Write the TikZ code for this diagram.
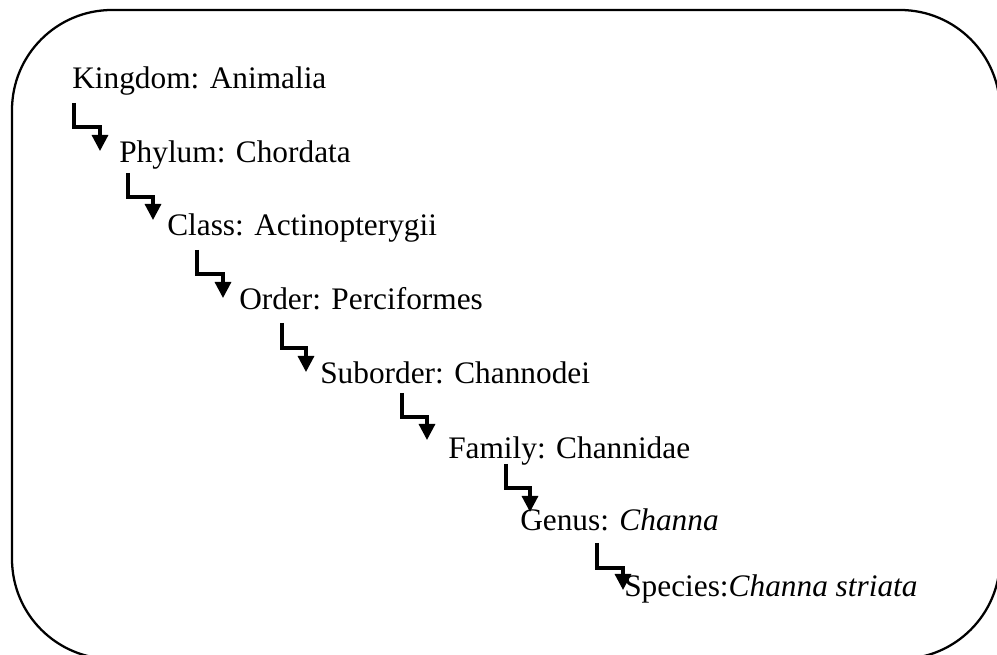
\documentclass[tikz,border=0pt]{standalone}
\usepackage{fontspec}
\setmainfont{Liberation Serif}
\usetikzlibrary{arrows.meta}

\begin{document}
\begin{tikzpicture}[x=0.75pt, y=-0.75pt, >={Triangle[length=12pt, width=12pt]},
    every node/.style={font=\fontsize{23.5}{28}\selectfont},
    taxon/.style={anchor=base west, inner sep=0pt},
    rankarrow/.style={->, line width=2.4pt}]
  \useasboundingbox (0,0) rectangle (997,655);
  \draw[line width=1.7pt, rounded corners=75pt] (12,10) rectangle (1000,659);
  % ranks
  \node[taxon] (kingdom) at (72,89) {Kingdom: Animalia};
  \node[taxon] (phylum) at (119,163) {Phylum: Chordata};
  \node[taxon] (class) at (167,236) {Class: Actinopterygii};
  \node[taxon] (order) at (239,310) {Order: Perciformes};
  \node[taxon] (suborder) at (320,384) {Suborder: Channodei};
  \node[taxon] (family) at (448,459) {Family: Channidae};
  \node[taxon] (genus) at (520,531) {Genus: \textit{Channa}};
  \node[taxon] (species) at (624,597) {Species:\textit{Channa striata}};
  % elbow arrows
  \draw[rankarrow] ([shift={(2,14)}]kingdom.base west) -- ++(0,24) -- ++(26,0) -- ++(0,24);
  \draw[rankarrow] ([shift={(9,10)}]phylum.base west) -- ++(0,24) -- ++(25,0) -- ++(0,23);
  \draw[rankarrow] ([shift={(30,14)}]class.base west) -- ++(0,24) -- ++(26,0) -- ++(0,24);
  \draw[rankarrow] ([shift={(43,13)}]order.base west) -- ++(0,25) -- ++(24,0) -- ++(0,24);
  \draw[rankarrow] ([shift={(82,9)}]suborder.base west) -- ++(0,24) -- ++(25,0) -- ++(0,23);
  \draw[rankarrow] ([shift={(58,5)}]family.base west) -- ++(0,24) -- ++(24,0) -- ++(0,24);
  \draw[rankarrow] ([shift={(77,12)}]genus.base west) -- ++(0,25) -- ++(26,0) -- ++(0,22);
\end{tikzpicture}
\end{document}
